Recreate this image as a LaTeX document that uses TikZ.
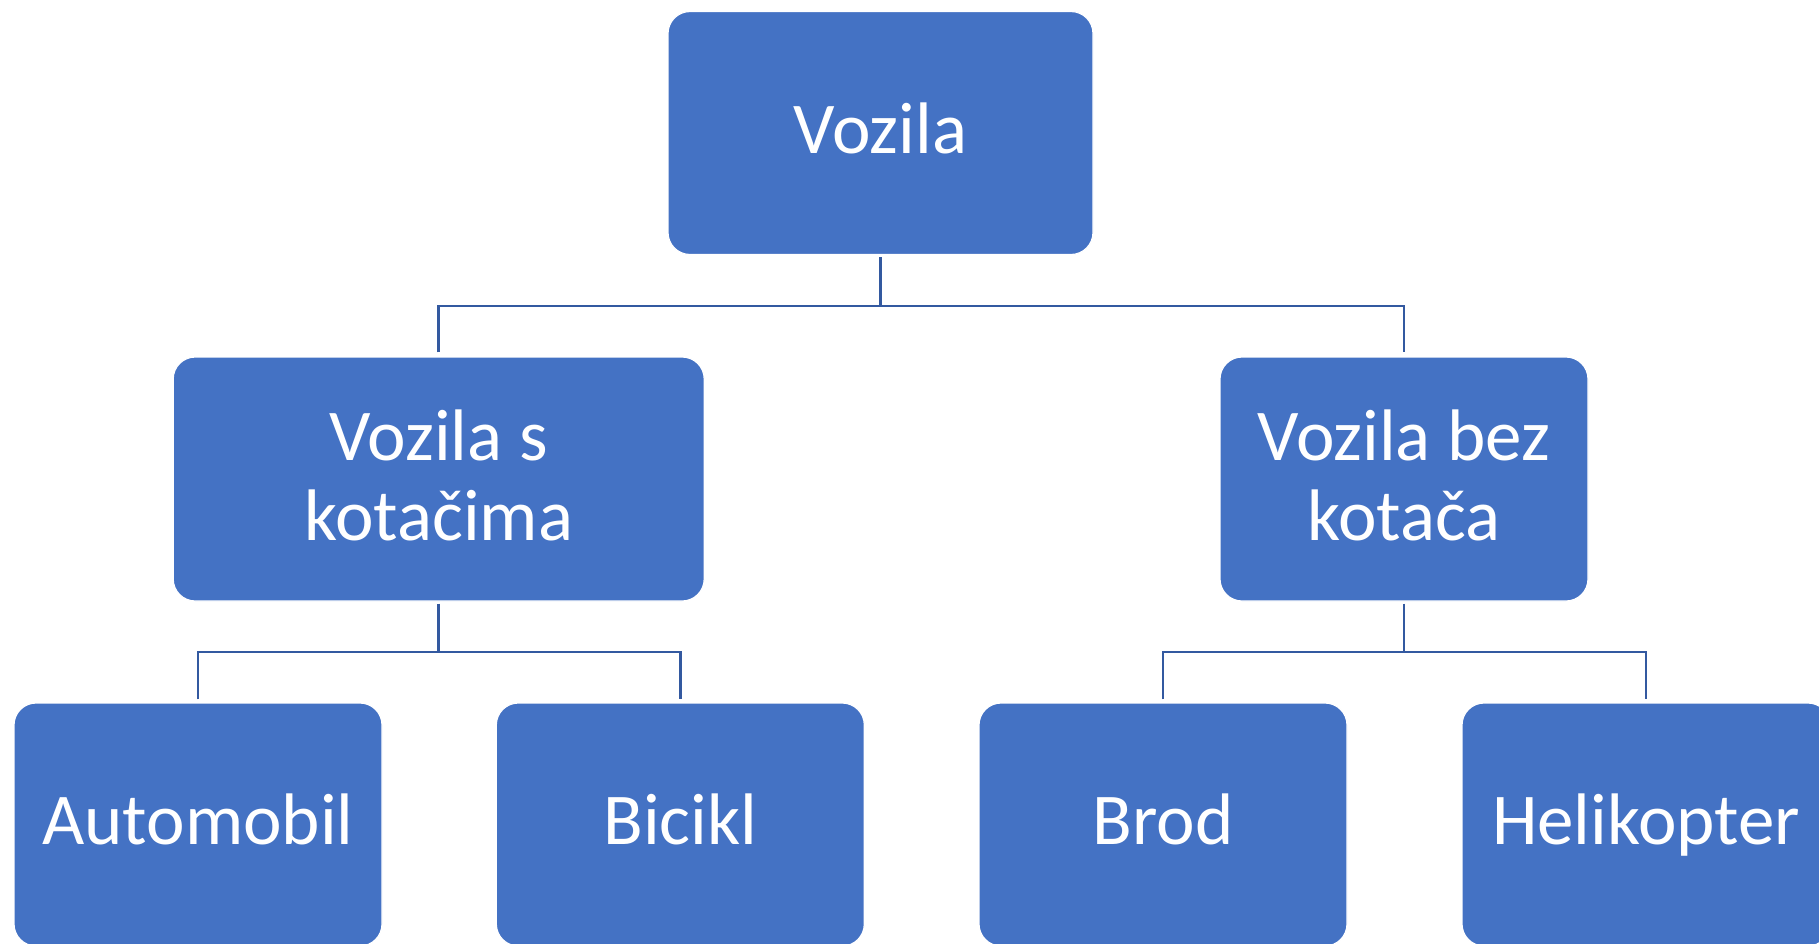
\documentclass[tikz,border=0pt]{standalone}
\usepackage{fontspec}
\setmainfont{Carlito}
\definecolor{boxblue}{HTML}{4472C4}
\definecolor{connblue}{HTML}{3359A0}
\begin{document}
\begin{tikzpicture}[x=1pt,y=-1pt,
  vbox/.style={draw=white,line width=1.2pt,fill=boxblue,rounded corners=22pt,
    text=white,align=center,inner sep=0pt,
    font=\fontsize{73}{80}\selectfont},
  oneline/.style={text height=60pt,text depth=20pt},
  twoline/.style={text depth=8pt},
  conn/.style={draw=connblue,line width=2.7pt}]
\useasboundingbox (0,0) rectangle (1819,943);
\clip (0,0) rectangle (1819,943);
\node[vbox,oneline,minimum width=425pt,minimum height=243pt] (top) at (880.5,133) {Vozila};
\node[vbox,twoline,minimum width=531pt,minimum height=244pt] (l2a) at (438.7,479) {Vozila s\\kotačima};
\node[vbox,twoline,minimum width=368pt,minimum height=244pt] (l2b) at (1404,479) {Vozila bez\\kotača};
\node[vbox,oneline,minimum width=368pt,minimum height=243pt] (auto) at (198,824.5) {Automobil};
\node[vbox,oneline,minimum width=368pt,minimum height=243pt] (bic) at (680.3,824.5) {Bicikl};
\node[vbox,oneline,minimum width=368pt,minimum height=243pt] (brod) at (1163,824.5) {Brod};
\node[vbox,oneline,minimum width=368pt,minimum height=243pt] (heli) at (1646,824.5) {Helikopter};
\coordinate (j1) at (880.5,306);
\coordinate (j2) at (438.7,652);
\coordinate (j3) at (1404,652);
\draw[conn] ([yshift=-2pt]top.south) -- (j1);
\draw[conn] ([yshift=4pt]l2a.north) |- (j1) -| ([yshift=4pt]l2b.north);
\draw[conn] ([yshift=-2pt]l2a.south) -- (j2);
\draw[conn] ([yshift=3pt]auto.north) |- (j2) -| ([yshift=3pt]bic.north);
\draw[conn] ([yshift=-2pt]l2b.south) -- (j3);
\draw[conn] ([yshift=3pt]brod.north) |- (j3) -| ([yshift=3pt]heli.north);
\end{tikzpicture}
\end{document}
